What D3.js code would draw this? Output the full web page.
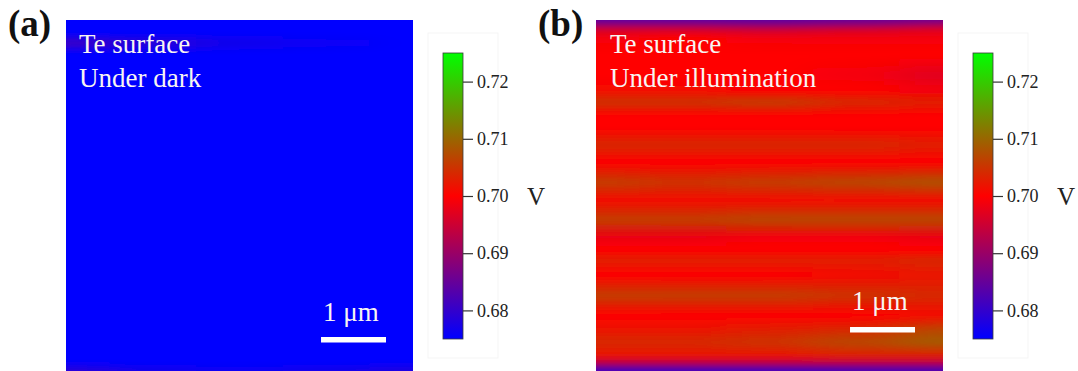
<!DOCTYPE html>
<html>
<head>
<meta charset="utf-8">
<script src="https://cdn.jsdelivr.net/npm/d3@7"></script>
<style>
  html, body { margin: 0; padding: 0; background: #fff; }
  svg { display: block; }
  text { font-family: "Liberation Serif", "Times New Roman", serif; }
</style>
</head>
<body>
<svg id="chart" width="1078" height="371"></svg>
<script>
// ---------------- DATA ----------------
const colorStops = [0.675, 0.700, 0.725];          // V
const colorRange = ["#0000ff", "#ff0000", "#00ff00"];
const colorTicks = [0.68, 0.69, 0.70, 0.71, 0.72];
const scanSize = 5.34;                             // μm
const scaleBarLength = 1;                          // μm
const colPos = [0, 1.34, 2.67, 4.0, 5.34];          // μm, sample columns

// Panel (a): under dark (μm row positions, V values per column)
const rowPosA = [0, 0.2, 0.35, 0.5, 2.5, 5.0, 5.2, 5.34];
const valuesA = [
  [0.673, 0.673, 0.673, 0.673, 0.673],
  [0.673, 0.673, 0.673, 0.673, 0.673],
  [0.681, 0.679, 0.677, 0.676, 0.675],
  [0.673, 0.673, 0.673, 0.673, 0.673],
  [0.673, 0.673, 0.673, 0.673, 0.673],
  [0.673, 0.673, 0.673, 0.673, 0.673],
  [0.673, 0.673, 0.673, 0.673, 0.673],
  [0.679, 0.677, 0.676, 0.677, 0.678]
];

// Panel (b): under illumination
const rowPosB = [0, 0.08, 0.15, 0.27, 0.53, 0.84, 1.07, 1.25, 1.45, 1.64, 1.90, 2.16, 2.47,
                 2.74, 3.04, 3.30, 3.50, 3.65, 3.88, 4.19, 4.49, 4.72, 4.90, 5.10, 5.21, 5.27, 5.34];
const valuesB = [
  [0.684, 0.684, 0.684, 0.685, 0.686],
  [0.690, 0.690, 0.689, 0.690, 0.692],
  [0.696, 0.696, 0.695, 0.696, 0.697],
  [0.699, 0.700, 0.699, 0.699, 0.699],
  [0.700, 0.700, 0.700, 0.700, 0.700],
  [0.700, 0.700, 0.700, 0.699, 0.697],
  [0.701, 0.701, 0.700, 0.700, 0.699],
  [0.705, 0.705, 0.706, 0.704, 0.703],
  [0.700, 0.700, 0.700, 0.700, 0.700],
  [0.700, 0.700, 0.700, 0.700, 0.700],
  [0.704, 0.704, 0.704, 0.704, 0.703],
  [0.700, 0.700, 0.700, 0.700, 0.700],
  [0.706, 0.705, 0.706, 0.707, 0.708],
  [0.701, 0.701, 0.701, 0.701, 0.701],
  [0.706, 0.706, 0.707, 0.707, 0.707],
  [0.698, 0.698, 0.699, 0.699, 0.698],
  [0.700, 0.700, 0.700, 0.700, 0.700],
  [0.703, 0.703, 0.703, 0.703, 0.704],
  [0.700, 0.700, 0.700, 0.701, 0.702],
  [0.706, 0.706, 0.706, 0.705, 0.704],
  [0.700, 0.700, 0.700, 0.700, 0.701],
  [0.702, 0.702, 0.703, 0.704, 0.707],
  [0.704, 0.704, 0.705, 0.707, 0.709],
  [0.702, 0.702, 0.702, 0.703, 0.703],
  [0.694, 0.694, 0.694, 0.694, 0.694],
  [0.687, 0.687, 0.687, 0.687, 0.687],
  [0.681, 0.681, 0.681, 0.682, 0.682]
];

const panelLabels = ["(a)", "(b)"];
const titleLines = [["Te surface", "Under dark"], ["Te surface", "Under illumination"]];
const scaleBarText = "1 μm";
const unitLabel = "V";

// ---------------- LAYOUT ----------------
const panels = [
  { id: "a", img: [66, 413, 20, 371], cb: [443, 463], label: [8, 36], text: [79, 53],
    bar: { right: 386, y: 337, textY: 321 }, rows: rowPosA, vals: valuesA },
  { id: "b", img: [596, 943, 20, 371], cb: [973, 993], label: [538, 36], text: [610, 53],
    bar: { right: 915, y: 327, textY: 310 }, rows: rowPosB, vals: valuesB }
];
panels.forEach((p, i) => { p.labelText = panelLabels[i]; p.lines = titleLines[i]; });

const color = d3.scaleLinear().domain(colorStops).range(colorRange).clamp(true);

const svg = d3.select("#chart");
const defs = svg.append("defs");

panels.forEach(p => {
  const [x0, x1, y0, y1] = p.img;
  const x = d3.scaleLinear().domain([0, scanSize]).range([x0, x1]);
  const y = d3.scaleLinear().domain([0, scanSize]).range([y0, y1]);
  const pad = 90;

  defs.append("clipPath").attr("id", "clip-" + p.id)
    .append("rect").attr("x", x0).attr("y", y0).attr("width", x1 - x0).attr("height", y1 - y0);
  const f = defs.append("filter").attr("id", "blur-" + p.id)
    .attr("filterUnits", "userSpaceOnUse")
    .attr("x", x0 - pad - 10).attr("y", y0 - 30)
    .attr("width", x1 - x0 + 2 * pad + 20).attr("height", y1 - y0 + 60);
  f.append("feGaussianBlur").attr("stdDeviation", "24 2.5");

  colPos.forEach((c, j) => {
    const g = defs.append("linearGradient").attr("id", `grad-${p.id}-${j}`)
      .attr("gradientUnits", "userSpaceOnUse")
      .attr("x1", 0).attr("x2", 0).attr("y1", y(0)).attr("y2", y(scanSize));
    p.rows.forEach((r, i) => {
      g.append("stop").attr("offset", r / scanSize).attr("stop-color", color(p.vals[i][j]));
    });
  });

  const outer = svg.append("g").attr("clip-path", `url(#clip-${p.id})`);
  const inner = outer.append("g").attr("filter", `url(#blur-${p.id})`);
  inner.selectAll("rect").data(colPos).join("rect")
    .attr("x", (c, j) => j === 0 ? x(c) - pad : x((colPos[j - 1] + c) / 2))
    .attr("width", (c, j) => {
      const a = j === 0 ? x(c) - pad : x((colPos[j - 1] + c) / 2);
      const b = j === colPos.length - 1 ? x(c) + pad : x((c + colPos[j + 1]) / 2);
      return b - a + 0.5;
    })
    .attr("y", y(0) - 14).attr("height", y(scanSize) - y(0) + 28)
    .attr("fill", (c, j) => `url(#grad-${p.id}-${j})`);

  // annotation text
  const tg = svg.append("g").attr("fill", "#f8f4f2").attr("font-size", 27);
  p.lines.forEach((t, k) => {
    tg.append("text").attr("x", p.text[0]).attr("y", p.text[1] + k * 33.5).text(t);
  });

  // scale bar
  const barLen = x(scaleBarLength) - x(0);
  svg.append("rect").attr("x", p.bar.right - barLen).attr("y", p.bar.y)
    .attr("width", barLen).attr("height", 5.5).attr("fill", "#ffffff");
  svg.append("text").attr("x", p.bar.right - barLen + 2).attr("y", p.bar.textY)
    .attr("fill", "#f8f4f2").attr("font-size", 27).text(scaleBarText);

  // panel label
  svg.append("text").attr("x", p.label[0]).attr("y", p.label[1])
    .attr("font-size", 37).attr("font-weight", "bold").attr("fill", "#111").text(p.labelText);

  // colour bar
  const [cx0, cx1] = p.cb;
  const cy = d3.scaleLinear().domain([colorStops[0], colorStops[2]]).range([339, 53]);
  svg.append("rect").attr("x", cx0 - 15).attr("y", 33).attr("width", cx1 - cx0 + 50).attr("height", 325)
    .attr("fill", "none").attr("stroke", "#f5f5f5").attr("stroke-width", 1);
  const cg = defs.append("linearGradient").attr("id", "cbgrad-" + p.id)
    .attr("x1", 0).attr("x2", 0).attr("y1", 1).attr("y2", 0);
  colorStops.forEach((v, i) => {
    cg.append("stop").attr("offset", (v - colorStops[0]) / (colorStops[2] - colorStops[0]))
      .attr("stop-color", colorRange[i]);
  });
  svg.append("rect").attr("x", cx0).attr("y", cy(colorStops[2]))
    .attr("width", cx1 - cx0).attr("height", cy(colorStops[0]) - cy(colorStops[2]))
    .attr("fill", `url(#cbgrad-${p.id})`).attr("stroke", "#3a3a3a").attr("stroke-width", 0.8);

  const axis = d3.axisRight(cy).tickValues(colorTicks).tickSize(10).tickPadding(4)
    .tickFormat(d3.format(".2f"));
  const ag = svg.append("g").attr("transform", `translate(${cx1},0)`).call(axis);
  ag.select(".domain").remove();
  ag.selectAll(".tick line").attr("stroke", "#333").attr("stroke-width", 1.2);
  ag.selectAll(".tick text").attr("fill", "#222").attr("font-size", 18)
    .attr("font-family", "Liberation Serif, Times New Roman, serif");

  svg.append("text").attr("x", cx1 + 64).attr("y", cy(colorStops[1]) + 9)
    .attr("font-size", 25).attr("fill", "#222").text(unitLabel);
});
</script>
</body>
</html>
